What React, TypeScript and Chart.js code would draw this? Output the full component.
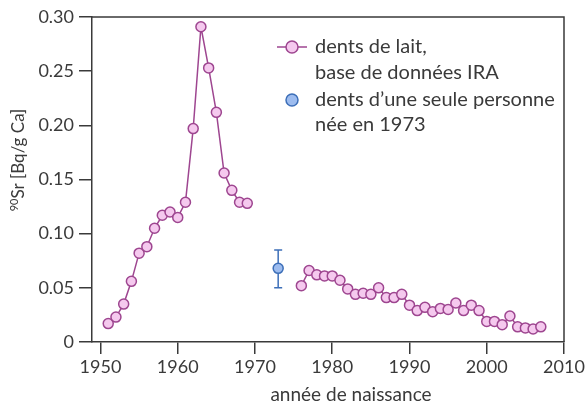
import React, { useEffect, useRef } from "react";
import { Chart, registerables } from "chart.js";

Chart.register(...registerables);

// Data
const iraYearsEarly = [1951, 1952, 1953, 1954, 1955, 1956, 1957, 1958, 1959, 1960, 1961, 1962, 1963, 1964, 1965, 1966, 1967, 1968, 1969];
const iraValuesEarly = [0.017, 0.023, 0.035, 0.056, 0.082, 0.088, 0.105, 0.117, 0.120, 0.115, 0.129, 0.197, 0.291, 0.253, 0.212, 0.156, 0.140, 0.129, 0.128];
const iraYearsLate = [1976, 1977, 1978, 1979, 1980, 1981, 1982, 1983, 1984, 1985, 1986, 1987, 1988, 1989, 1990, 1991, 1992, 1993, 1994, 1995, 1996, 1997, 1998, 1999, 2000, 2001, 2002, 2003, 2004, 2005, 2006, 2007];
const iraValuesLate = [0.052, 0.066, 0.062, 0.061, 0.061, 0.057, 0.049, 0.044, 0.045, 0.044, 0.050, 0.041, 0.041, 0.044, 0.034, 0.029, 0.032, 0.028, 0.031, 0.030, 0.036, 0.029, 0.034, 0.029, 0.019, 0.019, 0.016, 0.024, 0.014, 0.013, 0.012, 0.014];
const personYears = [1973];
const personValues = [0.068];
const personErrLow = [0.050];
const personErrHigh = [0.085];

const xTickValues = [1950, 1960, 1970, 1980, 1990, 2000, 2010];
const yTickValues = [0, 0.05, 0.1, 0.15, 0.2, 0.25, 0.3];

const legendLabels = [
  ["dents de lait,", "base de données IRA"],
  ["dents d\u2019une seule personne", "née en 1973"],
];
const xTitle = "année de naissance";
const yTitleSup = "90";
const yTitleMain = "Sr [Bq/g Ca]";

const FONT = "Lato, 'Open Sans', sans-serif";
const TEXT = "#3a3a3a";
const AXIS = "#3a3a3a";
const PINK_FILL = "#f5c9ee";
const PINK_LINE = "#9e4690";
const BLUE_FILL = "#9dbcef";
const BLUE_LINE = "#3d6fb8";

const extrasPlugin = {
  id: "extras",
  afterDatasetsDraw(chart: any) {
    const { ctx, chartArea, scales } = chart;
    const x = scales.x;
    const y = scales.y;
    ctx.save();
    // error bars
    ctx.strokeStyle = BLUE_LINE;
    ctx.lineWidth = 1.5;
    personYears.forEach((yr, i) => {
      const px = x.getPixelForValue(yr);
      const pLo = y.getPixelForValue(personErrLow[i]);
      const pHi = y.getPixelForValue(personErrHigh[i]);
      const pV = y.getPixelForValue(personValues[i]);
      ctx.beginPath();
      ctx.moveTo(px, pHi);
      ctx.lineTo(px, pV - 5);
      ctx.moveTo(px, pV + 5);
      ctx.lineTo(px, pLo);
      ctx.moveTo(px - 4, pHi);
      ctx.lineTo(px + 4, pHi);
      ctx.moveTo(px - 4, pLo);
      ctx.lineTo(px + 4, pLo);
      ctx.stroke();
    });
    // frame top and right
    ctx.strokeStyle = AXIS;
    ctx.lineWidth = 1.5;
    ctx.beginPath();
    ctx.moveTo(chartArea.left, chartArea.top);
    ctx.lineTo(chartArea.right, chartArea.top);
    ctx.lineTo(chartArea.right, chartArea.bottom);
    ctx.stroke();

    // legend
    ctx.font = `20px ${FONT}`;
    ctx.fillStyle = TEXT;
    ctx.textBaseline = "middle";
    ctx.textAlign = "left";
    const lx = 292;
    const tx = 315;
    const rows = [47, 73, 100, 125];
    // pink symbol
    ctx.strokeStyle = PINK_LINE;
    ctx.lineWidth = 1.5;
    ctx.beginPath();
    ctx.moveTo(lx - 15, rows[0]);
    ctx.lineTo(lx + 15, rows[0]);
    ctx.stroke();
    ctx.beginPath();
    ctx.arc(lx, rows[0], 6, 0, Math.PI * 2);
    ctx.fillStyle = PINK_FILL;
    ctx.fill();
    ctx.stroke();
    // blue symbol
    ctx.strokeStyle = BLUE_LINE;
    ctx.beginPath();
    ctx.arc(lx, rows[2], 6, 0, Math.PI * 2);
    ctx.fillStyle = BLUE_FILL;
    ctx.fill();
    ctx.stroke();
    ctx.fillStyle = TEXT;
    ctx.fillText(legendLabels[0][0], tx, rows[0]);
    ctx.fillText(legendLabels[0][1], tx, rows[1]);
    ctx.fillText(legendLabels[1][0], tx, rows[2]);
    ctx.fillText(legendLabels[1][1], tx, rows[3]);

    // x title
    ctx.font = `19px ${FONT}`;
    ctx.textAlign = "center";
    ctx.fillText(xTitle, 351, 395);

    // y title
    ctx.translate(19, 160);
    ctx.rotate(-Math.PI / 2);
    ctx.font = `11px ${FONT}`;
    const supW = ctx.measureText(yTitleSup).width;
    ctx.font = `17px ${FONT}`;
    const mainW = ctx.measureText(yTitleMain).width;
    const total = supW + mainW;
    ctx.textAlign = "left";
    ctx.font = `11px ${FONT}`;
    ctx.fillText(yTitleSup, -total / 2, -5);
    ctx.font = `17px ${FONT}`;
    ctx.fillText(yTitleMain, -total / 2 + supW, 0);
    ctx.restore();
  },
};

export default function App() {
  const ref = useRef<HTMLCanvasElement | null>(null);
  useEffect(() => {
    if (!ref.current) return;
    const pointStyle = {
      borderColor: PINK_LINE,
      borderWidth: 1.5,
      pointRadius: 5,
      pointBorderWidth: 1.5,
      pointBackgroundColor: PINK_FILL,
      pointBorderColor: PINK_LINE,
      showLine: true,
      tension: 0,
    };
    const chart = new Chart(ref.current, {
      type: "scatter",
      data: {
        datasets: [
          {
            label: "IRA 1",
            data: iraYearsEarly.map((yr, i) => ({ x: yr, y: iraValuesEarly[i] })),
            ...pointStyle,
          },
          {
            label: "IRA 2",
            data: iraYearsLate.map((yr, i) => ({ x: yr, y: iraValuesLate[i] })),
            ...pointStyle,
          },
          {
            label: "personne",
            data: personYears.map((yr, i) => ({ x: yr, y: personValues[i] })),
            pointRadius: 5,
            pointBorderWidth: 1.5,
            pointBackgroundColor: BLUE_FILL,
            pointBorderColor: BLUE_LINE,
            showLine: false,
          },
        ],
      },
      options: {
        responsive: false,
        animation: false,
        layout: { padding: { top: 17, right: 23, left: 0, bottom: 0 } },
        plugins: { legend: { display: false }, tooltip: { enabled: false } },
        scales: {
          x: {
            type: "linear",
            min: 1948.9,
            max: 2010,
            afterBuildTicks: (s: any) => {
              s.ticks = xTickValues.map((v) => ({ value: v }));
            },
            afterFit: (s: any) => {
              s.height = 63;
            },
            grid: {
              drawOnChartArea: false,
              drawTicks: true,
              tickLength: 12,
              color: AXIS,
              lineWidth: 1.5,
            },
            border: { display: true, color: AXIS, width: 1.5 },
            ticks: {
              color: TEXT,
              font: { family: FONT, size: 18 },
              padding: 2,
              maxRotation: 0,
              autoSkip: false,
              callback: (v: any) => String(v),
            },
          },
          y: {
            type: "linear",
            min: 0,
            max: 0.3,
            afterBuildTicks: (s: any) => {
              s.ticks = yTickValues.map((v) => ({ value: v }));
            },
            afterFit: (s: any) => {
              s.width = 92;
            },
            grid: {
              drawOnChartArea: false,
              drawTicks: true,
              tickLength: 13,
              color: AXIS,
              lineWidth: 1.5,
            },
            border: { display: true, color: AXIS, width: 1.5 },
            ticks: {
              color: TEXT,
              font: { family: FONT, size: 18 },
              padding: 5,
              autoSkip: false,
              callback: (v: any) => (v === 0 ? "0" : Number(v).toFixed(2)),
            },
          },
        },
      },
      plugins: [extrasPlugin],
    });
    return () => chart.destroy();
  }, []);
  return (
    <div style={{ position: "absolute", left: 0, top: 0, width: 587, height: 405, background: "#fff" }}>
      <canvas ref={ref} width={587} height={405} />
    </div>
  );
}
